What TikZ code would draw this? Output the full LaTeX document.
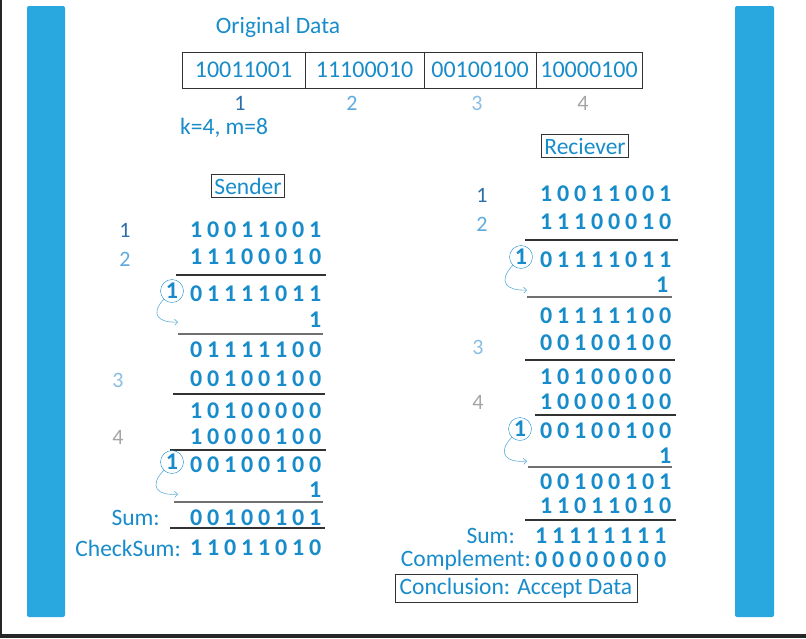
\documentclass[tikz,border=0pt]{standalone}
\usepackage{fontspec}
\setmainfont{Carlito}
\usetikzlibrary{arrows.meta,positioning}
\definecolor{calcblue}{RGB}{24,140,202}
\definecolor{barblue}{RGB}{41,168,224}
\definecolor{idxdark}{RGB}{45,110,170}
\definecolor{idxmid}{RGB}{95,170,220}
\definecolor{idxlight}{RGB}{140,190,225}
\definecolor{idxgrey}{RGB}{165,165,165}
\definecolor{rulegrey}{RGB}{50,50,50}

% one digit per fixed-width box, like the spaced sums
\makeatletter
\newcommand\bits[1]{\@tfor\bitdigit:=#1\do{\makebox[17pt]{\bitdigit}}}
\makeatother

\begin{document}
\begin{tikzpicture}[x=1pt, y=-1pt,
  every node/.style={inner sep=0pt, text=calcblue},
  label/.style={font=\fontsize{23.5}{24}\selectfont},
  titlebox/.style={draw=rulegrey, line width=1pt, inner sep=3pt, font=\fontsize{23.5}{24}\selectfont},
  databox/.style={draw=rulegrey, line width=1pt, minimum height=36pt, font=\fontsize{24}{24}\selectfont},
  bitrow/.style={anchor=east, font=\fontsize{24}{24}\selectfont\bfseries},
  rowidx/.style={font=\fontsize{22}{22}\selectfont},
  carry/.style={draw=calcblue, circle, minimum size=23pt, font=\fontsize{24}{24}\selectfont\bfseries},
  sumline/.style={draw=rulegrey, line width=1.6pt},
  wrap/.style={draw=calcblue!70, line width=0.6pt, -{Straight Barb[length=3pt]}}]
\useasboundingbox (0,0) rectangle (806,638);
% frame and side bars
\draw[line width=1.5pt, black!85] (0.75,0) -- (0.75,634);
\fill[black!85] (0,634) rectangle (806,638);
\fill[barblue, rounded corners=2pt] (27,6) rectangle (65,617);
\fill[barblue, rounded corners=2pt] (735,6) rectangle (774,617);

% original data
\node[label] (title) at (278,27) {Original Data};
\node[databox, minimum width=123pt] (d1) at (243.5,70) {10011001};
\node[databox, minimum width=119pt] (d2) at (364.5,70) {11100010};
\node[databox, minimum width=112pt] (d3) at (480,70) {00100100};
\node[databox, minimum width=106pt] (d4) at (589,70) {10000100};
\node[rowidx, text=idxdark] (n1) at (240,103) {1};
\node[rowidx, text=idxmid] (n2) at (352,103) {2};
\node[rowidx, text=idxlight] (n3) at (477,103) {3};
\node[rowidx, text=idxgrey] (n4) at (583,103) {4};
\node[label, anchor=west] (km) at (180,128) {k=4, m=8};

% sender
\node[titlebox] (sender) at (248,186) {Sender};
\node[rowidx, text=idxdark] (s1) at (125,230) {1};
\node[rowidx, text=idxmid] (s2) at (125,259) {2};
\node[rowidx, text=idxlight] (s3) at (118,380) {3};
\node[rowidx, text=idxgrey] (s4) at (118,437) {4};
\node[bitrow] (sa) at (324,230) {\bits{10011001}};
\node[bitrow] (sb) at (324,257) {\bits{11100010}};
\draw[sumline] (176,275) -- (326,275);
\node[bitrow] (sc) at (324,294) {\bits{01111011}};
\node[carry] (sk1) at (172,291) {1};
\node[bitrow] (sd) at (324,320) {\bits{1}};
\draw[wrap] (sk1.south west) .. controls (150,314) and (158,323) .. (178,322);
\draw[sumline, draw=rulegrey!70] (178,334) -- (323,334);
\node[bitrow] (se) at (324,350) {\bits{01111100}};
\node[bitrow] (sf) at (324,379) {\bits{00100100}};
\draw[sumline] (173,394) -- (325,394);
\node[bitrow] (sg) at (324,411) {\bits{10100000}};
\node[bitrow] (sh) at (324,437) {\bits{10000100}};
\draw[sumline] (170,450) -- (326,450);
\node[bitrow] (si) at (324,465) {\bits{00100100}};
\node[carry] (sk2) at (172,462) {1};
\node[bitrow] (sj) at (324,490) {\bits{1}};
\draw[wrap] (sk2.south west) .. controls (148,487) and (158,496) .. (178,494);
\draw[sumline, draw=rulegrey!70] (174,502) -- (323,502);
\node[label, anchor=east] (ssum) at (160,518) {Sum:};
\node[bitrow] (sk) at (324,518) {\bits{00100101}};
\draw[sumline] (170,528) -- (325,528);
\node[label, anchor=east] (schk) at (181,548) {CheckSum:};
\node[bitrow] (sl) at (324,548) {\bits{11011010}};

% receiver
\node[titlebox] (recv) at (585,146) {Reciever};
\node[rowidx, text=idxdark] (r1) at (482,195) {1};
\node[rowidx, text=idxmid] (r2) at (482,224) {2};
\node[rowidx, text=idxlight] (r3) at (478,347) {3};
\node[rowidx, text=idxgrey] (r4) at (478,402) {4};
\node[bitrow] (ra) at (674,194) {\bits{10011001}};
\node[bitrow] (rb) at (674,222) {\bits{11100010}};
\draw[sumline] (525,240) -- (678,240);
\node[bitrow] (rc) at (674,260) {\bits{01111011}};
\node[carry] (rk1) at (521,257) {1};
\node[bitrow] (rd) at (671,285) {\bits{1}};
\draw[wrap] (rk1.south west) .. controls (497,282) and (507,291) .. (527,290);
\draw[sumline, draw=rulegrey!70] (527,297) -- (672,297);
\node[bitrow] (re) at (674,316) {\bits{01111100}};
\node[bitrow] (rf) at (674,343) {\bits{00100100}};
\draw[sumline] (525,360) -- (675,360);
\node[bitrow] (rg) at (674,377) {\bits{10100000}};
\node[bitrow] (rh) at (674,402) {\bits{10000100}};
\draw[sumline] (535,415) -- (676,415);
\node[bitrow] (ri) at (674,431) {\bits{00100100}};
\node[carry] (rk2) at (520,429) {1};
\node[bitrow] (rj) at (674,456) {\bits{1}};
\draw[wrap] (rk2.south west) .. controls (496,454) and (507,463) .. (527,461);
\draw[sumline, draw=rulegrey!70] (528,467) -- (672,467);
\node[bitrow] (rk) at (674,482) {\bits{00100101}};
\node[bitrow] (rl) at (674,506) {\bits{11011010}};
\draw[sumline] (525,520) -- (676,520);
\node[label, anchor=east] (rsum) at (515,536) {Sum:};
\node[bitrow] (rm) at (669,536) {\bits{11111111}};
\node[label, anchor=east] (rcomp) at (531,560) {Complement:};
\node[bitrow] (rn) at (669,560) {\bits{00000000}};
\node[titlebox, minimum width=242pt, minimum height=28pt] (concl) at (516,588) {Conclusion: Accept Data};
\end{tikzpicture}
\end{document}
